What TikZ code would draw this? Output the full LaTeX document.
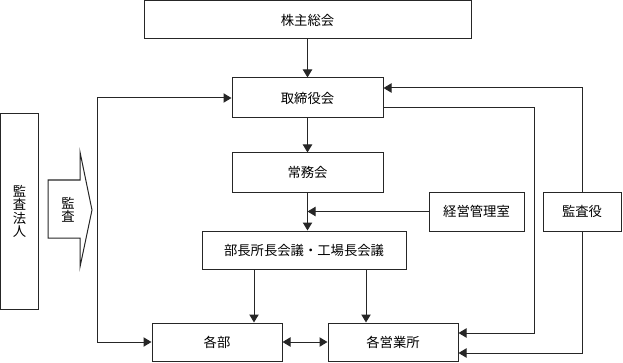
\documentclass[tikz,border=0pt]{standalone}
\usepackage{fontspec}
\setmainfont{Noto Sans CJK JP}
\usetikzlibrary{arrows.meta}
\begin{document}
\begin{tikzpicture}[x=0.75pt,y=-0.75pt,
  box/.style={draw=black!85, line width=0.75pt, inner sep=0pt, font=\fontsize{10}{10}\selectfont, align=center},
  arr/.style={draw=black!85, line width=0.75pt, -{Triangle[length=6pt,width=7pt]}},
  arrb/.style={draw=black!85, line width=0.75pt, {Triangle[length=6pt,width=7pt]}-{Triangle[length=6pt,width=7pt]}},
  ln/.style={draw=black!85, line width=0.75pt}]
\useasboundingbox (0,0) rectangle (623,363);
\node[box, minimum width=327*0.75pt, minimum height=38*0.75pt] (gm) at (307.5,20) {株主総会};
\node[box, minimum width=151*0.75pt, minimum height=40*0.75pt] (bod) at (307.5,98) {取締役会};
\node[box, minimum width=151*0.75pt, minimum height=39*0.75pt] (jm) at (307.5,172.5) {常務会};
\node[box, minimum width=204*0.75pt, minimum height=38*0.75pt] (mtg) at (304,250) {部長所長会議・工場長会議};
\node[box, minimum width=95*0.75pt, minimum height=39*0.75pt] (kk) at (476.5,211.5) {経営管理室};
\node[box, minimum width=78*0.75pt, minimum height=39*0.75pt] (ka) at (582,211.5) {監査役};
\node[box, minimum width=130*0.75pt, minimum height=38*0.75pt] (bu) at (217,342) {各部};
\node[box, minimum width=130*0.75pt, minimum height=38*0.75pt] (eig) at (393,342) {各営業所};
\node[box, minimum width=38*0.75pt, minimum height=195*0.75pt] (firm) at (19.5,211.5) {監\\査\\法\\人};
% audit arrow shape
\draw[ln] (48,180) -- (80,180) -- (80,152) -- (92,210) -- (80,267) -- (80,238) -- (48,238) -- cycle;
\node[font=\fontsize{10}{10}\selectfont, align=center, inner sep=0pt] (audit) at (68,210) {監\\査};
% connectors
\draw[arr] (gm.south) -- (bod.north);
\draw[arr] (bod.south) -- (jm.north);
\draw[arr] (jm.south) -- (jm.south |- mtg.north);
\draw[arr] (kk.west) -- (jm.south |- kk.west);
\draw[arr] (254,0 |- mtg.south) -- (254,0 |- bu.north);
\draw[arr] (366,0 |- mtg.south) -- (366,0 |- eig.north);
\draw[arrb] (bu.east) -- (eig.west);
\coordinate (L1) at (97,98);
\coordinate (L2) at (97,342);
\draw[arrb] (bod.west) -- (L1) -- (L2) -- (bu.west);
\draw[arr] (ka.north) |- (bod.east |- 0,88);
\draw[arr] (ka.south) |- (eig.east |- 0,353);
\draw[arr] (bod.east |- 0,108) -- (534,108) |- (eig.east |- 0,333);
\end{tikzpicture}
\end{document}
